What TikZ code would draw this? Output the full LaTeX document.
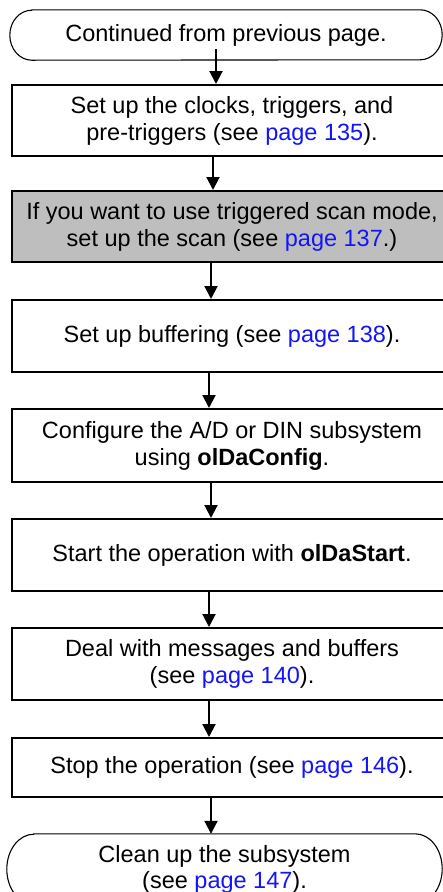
\documentclass[tikz,border=0pt]{standalone}
\usepackage{fontspec}
\setmainfont{Liberation Sans}
\usepackage{tikz}
\usetikzlibrary{arrows.meta, positioning, calc}
\definecolor{linkblue}{RGB}{20,20,250}
\definecolor{stepgray}{RGB}{190,190,190}
\definecolor{mydark}{RGB}{0,0,0}
\newcommand{\pg}[1]{\textcolor{linkblue}{page #1}}
\tikzset{
  terminal/.style={rectangle, align=center, inner sep=0pt,
    font=\fontsize{23.5}{26}\selectfont},
  termline/.style={draw=mydark, line width=1.1pt},
  stepbox/.style={rectangle, draw=mydark, fill=white, line width=2pt,
    minimum width=440pt, align=center, inner sep=0pt,
    font=\fontsize{23.5}{27}\selectfont},
  optbox/.style={stepbox, fill=stepgray},
  flow/.style={-{Triangle[width=13pt,length=13pt]}, line width=2pt, color=mydark}
}
\begin{document}
\begin{tikzpicture}[x=1pt,y=-1pt]
  \useasboundingbox (0,0) rectangle (443,892);
  % Start and end
  \node[terminal, minimum width=432pt, minimum height=50pt] (cont) at (226,35)
    {Continued from previous page.};
  \node[terminal, minimum width=435pt, minimum height=70pt] (clean) at (224.5,869)
    {Clean up the subsystem\\(see \pg{147}).};
  \draw[termline] ([xshift=22pt]cont.north west) -- ([xshift=-22pt]cont.north east)
    arc[start angle=90, end angle=-90, x radius=22pt, y radius=25pt]
    -- ([xshift=22pt]cont.south west)
    arc[start angle=270, end angle=90, x radius=22pt, y radius=25pt] -- cycle;
  \draw[termline] ([xshift=27pt]clean.north west) -- ([xshift=-27pt]clean.north east)
    arc[start angle=90, end angle=-90, x radius=27pt, y radius=35pt]
    -- ([xshift=27pt]clean.south west)
    arc[start angle=270, end angle=90, x radius=27pt, y radius=35pt] -- cycle;
  % Steps
  \node[stepbox, minimum height=71pt] (clocks) at (232,120.5)
    {Set up the clocks, triggers, and\\pre-triggers (see \pg{135}).};
  \node[optbox, minimum height=71pt] (scan) at (232,226.5)
    {If you want to use triggered scan mode,\\set up the scan (see \pg{137}.)};
  \node[stepbox, minimum height=72pt] (buffers) at (232,336)
    {Set up buffering (see \pg{138}).};
  \node[stepbox, minimum height=73pt] (config) at (232,445.5)
    {Configure the A/D or DIN subsystem\\using \textbf{olDaConfig}.};
  \node[stepbox, minimum height=72pt] (start) at (232,555)
    {Start the operation with \textbf{olDaStart}.};
  \node[stepbox, minimum height=72pt] (messages) at (232,664)
    {Deal with messages and buffers\\(see \pg{140}).};
  \node[stepbox, minimum height=59pt] (stop) at (232,767.5)
    {Stop the operation (see \pg{146}).};
  % Arrows
  \draw[flow] ([xshift=-10pt,yshift=11pt]cont.south) coordinate (s1) -- (s1 |- clocks.north);
  \draw[flow] ([xshift=-19pt]clocks.south) coordinate (s2) -- (s2 |- scan.north);
  \draw[flow] ([xshift=-21pt]scan.south) coordinate (s3) -- (s3 |- buffers.north);
  \draw[flow] ([xshift=-23pt]buffers.south) coordinate (s4) -- (s4 |- config.north);
  \draw[flow] ([xshift=-21pt]config.south) coordinate (s5) -- (s5 |- start.north);
  \draw[flow] ([xshift=-23pt]start.south) coordinate (s6) -- (s6 |- messages.north);
  \draw[flow] ([xshift=-23pt]messages.south) coordinate (s7) -- (s7 |- stop.north);
  \draw[flow] ([xshift=-21pt]stop.south) coordinate (s8) -- (s8 |- clean.north);
\end{tikzpicture}
\end{document}
